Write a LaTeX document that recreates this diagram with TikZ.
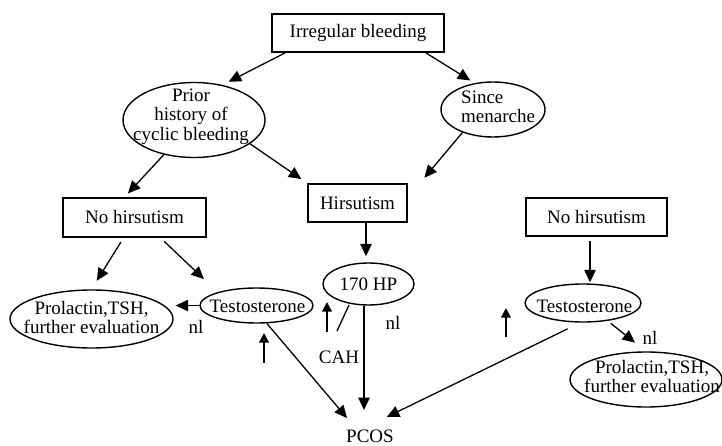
\documentclass[tikz,border=0pt]{standalone}
\usepackage{fontspec}
\setmainfont{Liberation Serif}
\usetikzlibrary{shapes.geometric,arrows.meta,calc}
\tikzstyle{arrow} = [line width=1.3pt,-{Triangle[length=12.5pt,width=11.5pt]}]
\tikzstyle{uparrow} = [line width=2pt,-{Triangle[length=9.5pt,width=9.5pt]}]

\begin{document}
\begin{tikzpicture}[x=1pt,y=-1pt,
	every node/.style={font=\fontsize{19pt}{19.5pt}\selectfont},
	box/.style={rectangle, draw, line width=1.8pt, inner sep=0pt, minimum height=38pt},
	oval/.style={ellipse, draw, line width=1.4pt, inner sep=0pt},
	txt/.style={inner sep=0pt, align=center}]
			
			\useasboundingbox (0,0) rectangle (722,446);
			
			% BOXES
			
			\node [box, minimum width=172pt] (irregular) at (358,33) {Irregular bleeding};
			\node [box, minimum width=99pt] (hirsutism) at (357.5,203) {Hirsutism};
			\node [box, minimum width=143pt, minimum height=39pt] (nohirsleft) at (134.5,217.5) {No hirsutism};
			\node [box, minimum width=141pt] (nohirsright) at (596.5,217) {No hirsutism};
			
			% OVALS
			
			\node [oval, minimum width=142pt, minimum height=75pt] (prior) at (194,120) {};
			\node [txt] (priortext) at ([xshift=-3pt,yshift=3.5pt]prior.center) {Prior\\history of\\cyclic bleeding};
			
			\node [oval, minimum width=104pt, minimum height=55pt] (since) at (493,109.5) {};
			\node [txt, align=left, anchor=west] (sincetext) at ([xshift=-32pt,yshift=2.5pt]since.center) {Since\\menarche};
			
			\node [oval, minimum width=91pt, minimum height=42pt] (hp) at (368.5,284) {};
			\node [txt] (hptext) at (hp.center) {170 HP};
			
			\node [oval, minimum width=113pt, minimum height=35pt] (testoleft) at (256.5,305.5) {};
			\node [txt] (testolefttext) at ([xshift=1pt,yshift=-1pt]testoleft.center) {Testosterone};
			
			\node [oval, minimum width=116pt, minimum height=38pt] (testoright) at (583,303) {};
			\node [txt] (testorighttext) at ([xshift=1.5pt,yshift=-3pt]testoright.center) {Testosterone};
			
			\node [oval, minimum width=163pt, minimum height=58pt] (prolleft) at (91.5,319) {};
			\node [txt] (prollefttext) at ([yshift=1.5pt]prolleft.center) {Prolactin,TSH,\\further evaluation};
			
			\node [oval, minimum width=152pt, minimum height=55pt] (prolright) at (646,379.5) {};
			\node [txt] (prolrighttext) at ([xshift=6pt,yshift=3pt]prolright.center) {Prolactin,TSH,\\further evaluation};
			
			% LABELS
			
			\node [txt] (pcos) at (370,436.6) {PCOS};
			\node [txt] (nlleft) at (196,327) {nl};
			\node [txt] (nlmid) at (393,323) {nl};
			\node [txt] (nlright) at (650,338) {nl};
			\node [txt] (cah) at (339,357) {CAH};
			\coordinate (pcostop) at ([xshift=-12pt,yshift=-1pt]pcos.north);
			
			% ARROWS
			
			\draw [arrow, shorten >=7pt] ([xshift=14pt]irregular.south west) -- (prior.51);
			\draw [arrow, shorten >=5pt] ([xshift=-19pt]irregular.south east) -- (since.125);
			\draw [arrow, shorten >=5pt] (prior.229) -- ([xshift=-10pt]nohirsleft.north);
			\draw [arrow, shorten >=7pt] (prior.-23) -- (hirsutism.north west);
			\draw [arrow, shorten >=7pt] (since.217) -- ([xshift=12pt]hirsutism.north east);
			\draw [arrow, shorten <=5pt, shorten >=10pt] ([xshift=-11pt]nohirsleft.south) -- (prolleft.north);
			\draw [arrow, shorten <=5pt, shorten >=19pt] ([xshift=26pt]nohirsleft.south) -- (testoleft.161);
			\draw [arrow, shorten >=2pt] (testoleft.west) -- (testoleft.west -| prolleft.east);
			\draw [arrow, shorten >=6pt] ([xshift=8.5pt]hirsutism.south) -- ([xshift=8.5pt]hirsutism.south |- hp.north);
			\draw [arrow, shorten <=4pt, shorten >=1pt] ([xshift=-6.5pt]nohirsright.south) -- ([xshift=-6.5pt]nohirsright.south |- testoright.north);
			\draw [arrow, shorten >=20pt] ([xshift=-4.5pt]hp.south) -- ([xshift=-4.5pt]hp.south |- pcos.north);
			\draw [arrow, shorten >=17pt] (testoleft.-60) -- (pcostop);
			\draw [arrow, shorten <=14pt, shorten >=32pt] (testoright.262) -- (pcostop);
			\draw [arrow, shorten <=4pt, shorten >=14pt] (testoright.-36) -- (prolright.north);
			
			% UP ARROWS AND SLASH
			
			\coordinate (upleft) at (264,363);
			\coordinate (upcah) at (327,332);
			\coordinate (upright) at (506,337);
			\coordinate (slash) at (349,305);
			\draw [uparrow] (upleft) -- ++(0,-30);
			\draw [uparrow] (upcah) -- ++(0,-30);
			\draw [uparrow] (upright) -- ++(0,-29);
			\draw [line width=1.3pt] (slash) -- ++(-12,26);
			
\end{tikzpicture}
\end{document}
